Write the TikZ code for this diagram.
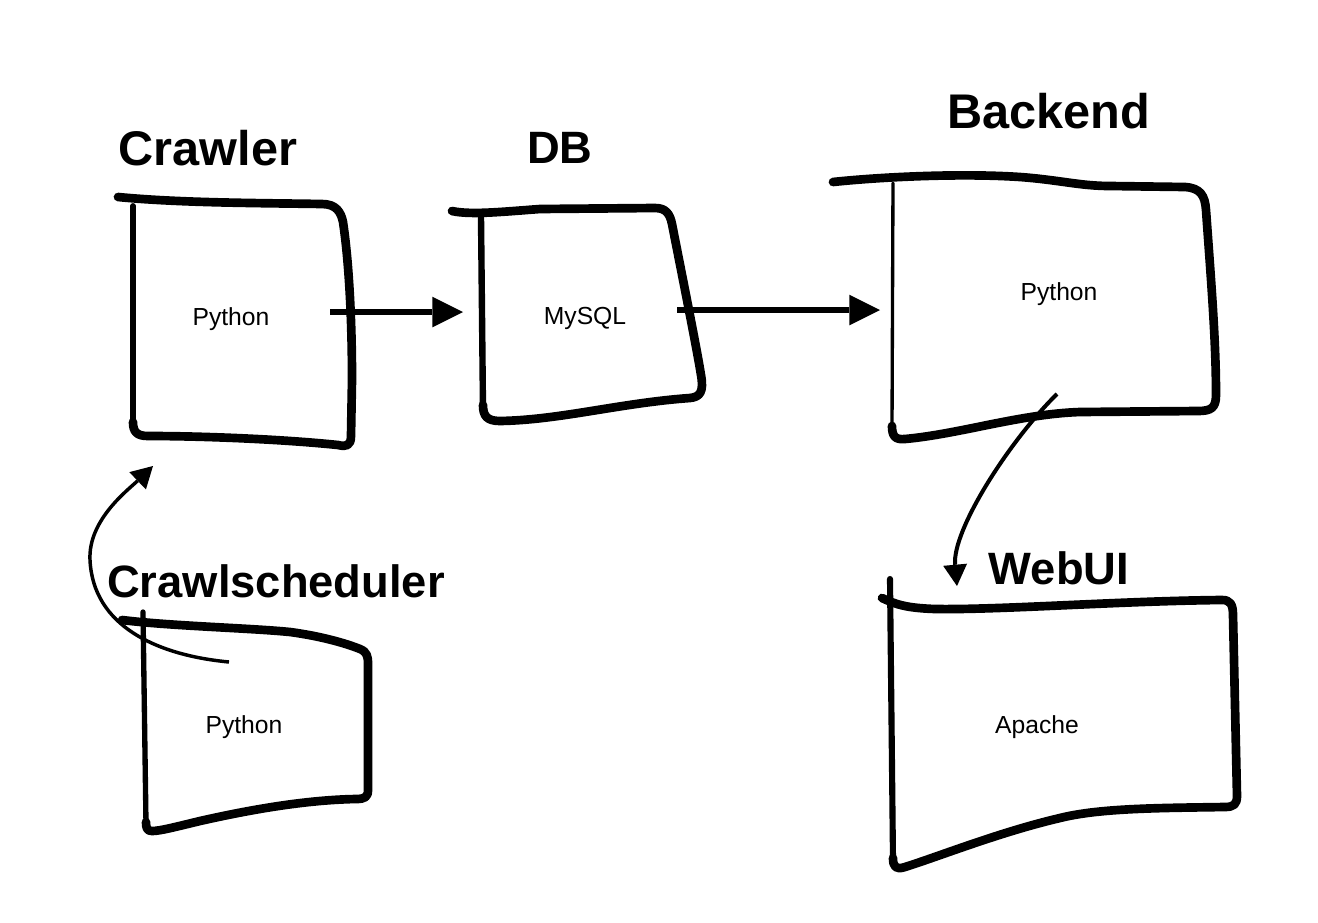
\documentclass[tikz,border=0pt]{standalone}
\usepackage{fontspec}
\setmainfont{Liberation Sans}
\usepackage{tikz}
\usetikzlibrary{positioning}
\usetikzlibrary{arrows.meta}
\tikzset{
   pen/.style = {%
    draw=black,
    line width=6.5pt,
    line cap=round,
    line join=round},
   side/.style = {%
    draw=black,
    line width=#1,% <-- the thin left stroke
    line cap=round},
   side/.default = 4.8pt,
   boxtext/.style = {%
    inner sep=0pt,
    font=\fontsize{18.5}{22}\selectfont},
   title/.style = {%
    inner sep=0pt,
    font=\bfseries\fontsize{34}{40}\selectfont},
   bigtitle/.style = {%
    inner sep=0pt,
    font=\bfseries\fontsize{36.5}{42}\selectfont},
   flow/.style = {%
    draw=black,
    line width=4.5pt,
    -{Triangle[length=23pt,width=23pt,line width=0pt]}},
   curvy/.style = {%
    draw=black,
    line width=#1,
    -{Triangle[length=16pt,width=18pt,line width=0pt]}},
   curvy/.default = 2.6pt,
    }

\begin{document}
\begin{tikzpicture}[x=0.75pt,y=-0.75pt]
    \useasboundingbox (0,0) rectangle (1318,922);

    % titles
    \node[bigtitle] (crawler) at (208,148) {Crawler};
    \node[title]    (db)      at (560,148) {DB};
    \node[bigtitle] (backend) at (1049,111) {Backend};
    \node[title]    (webui)   at (1059,568) {WebUI};
    \node[title]    (sched)   at (276,581) {Crawlscheduler};

    % text inside the boxes
    \node[boxtext] (crawlerpy) at (231,319) {Python};
    \node[boxtext] (dbsql)     at (585,318) {MySQL};
    \node[boxtext] (backendpy) at (1059,294) {Python};
    \node[boxtext] (schedpy)   at (244,727) {Python};
    \node[boxtext] (webuiap)   at (1037,727) {Apache};

    % Crawler box
    \draw[pen] (118,197) .. controls (180,203) and (260,203) .. (322,204)
        .. controls (336,204) and (341,212) .. (343,222)
        .. controls (349,262) and (352,320) .. (352,380) -- (351,436)
        .. controls (351,446) and (346,447) .. (338,445)
        .. controls (280,439) and (200,436) .. (148,436)
        .. controls (137,436) and (133,432) .. (133,422);
    \draw[side=4.4pt] (133,424) -- (133,206);

    % DB box
    \draw[pen] (452,211) .. controls (470,215) and (500,212) .. (540,209) -- (655,208)
        .. controls (666,208) and (670,214) .. (672,224)
        .. controls (685,290) and (697,350) .. (701,375)
        .. controls (704,392) and (700,397) .. (690,398)
        .. controls (620,403) and (560,420) .. (500,421)
        .. controls (487,421) and (483,416) .. (483,405);
    \draw[side] (483,410) -- (481,217);

    % Backend box
    \draw[pen] (833,182) .. controls (880,177) and (960,173) .. (1020,177)
        .. controls (1060,180) and (1080,186) .. (1110,186) -- (1185,187)
        .. controls (1200,188) and (1205,195) .. (1206,210)
        .. controls (1211,280) and (1216,340) .. (1216,395)
        .. controls (1216,408) and (1211,411) .. (1198,411) -- (1080,412)
        .. controls (1020,414) and (960,434) .. (905,439)
        .. controls (895,440) and (892,436) .. (892,426);
    \draw[side=2.5pt] (892,428) -- (893,183);

    % WebUI box
    \draw[pen] (882,598) .. controls (895,604) and (905,608) .. (935,609)
        .. controls (1000,610) and (1120,601) .. (1222,600)
        .. controls (1230,600) and (1233,604) .. (1233,615)
        -- (1237,796)
        .. controls (1237,804) and (1234,807) .. (1225,807)
        .. controls (1160,808) and (1100,808) .. (1060,818)
        .. controls (1000,832) and (940,856) .. (905,867)
        .. controls (896,870) and (893,867) .. (893,858);
    \draw[side=4.6pt] (893,860) -- (890,579);

    % Crawlscheduler box
    \draw[pen] (122,620) .. controls (170,626) and (250,628) .. (290,632)
        .. controls (320,636) and (345,643) .. (360,649)
        .. controls (367,652) and (368,656) .. (368,664) -- (368,790)
        .. controls (368,797) and (365,799) .. (356,799)
        .. controls (300,800) and (240,812) .. (200,821)
        .. controls (175,827) and (160,831) .. (152,831)
        .. controls (147,831) and (146,828) .. (146,822);
    \draw[side=4pt] (146,824) -- (143,612);

    % ends of the connectors
    \coordinate (crawlerout) at (330,312);
    \coordinate (dbin)       at (463,312);
    \coordinate (dbout)      at (677,310);
    \coordinate (backendin)  at (880,310);
    \coordinate (backendout) at (1057,394);
    \coordinate (webuiin)    at (957,586);
    \coordinate (schedout)   at (229,662);
    \coordinate (crawlerin)  at (153,466);

    \draw[flow] (crawlerout) -- (dbin);
    \draw[flow] (dbout) -- (backendin);
    \draw[curvy=3pt] (backendout) .. controls (1010,440) and (952,530) .. (webuiin);
    \draw[curvy] (schedout) .. controls (155,655) and (93,625) .. (90,560)
        .. controls (88,520) and (128,490) .. (crawlerin);
\end{tikzpicture}
\end{document}
